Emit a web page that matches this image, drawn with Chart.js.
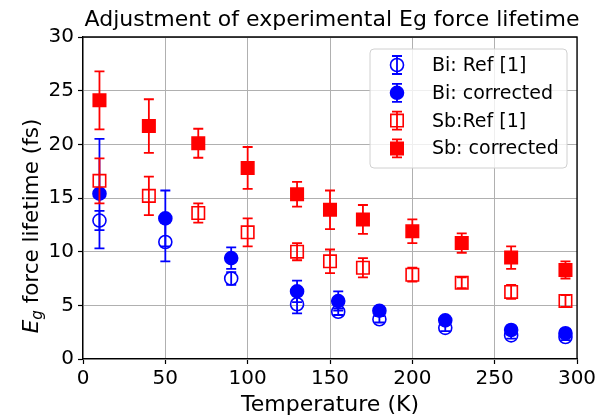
<!DOCTYPE html>
<html>
<head>
<meta charset="utf-8">
<script src="https://cdn.jsdelivr.net/npm/chart.js@4/dist/chart.umd.min.js"></script>
<style>
  html, body { margin: 0; padding: 0; background: #fff; }
  #wrap { width: 608px; height: 417px; }
</style>
</head>
<body>
<div id="wrap"><canvas id="c" width="608" height="417"></canvas></div>
<script>
// Temperatures (K)
const biTemps = [10, 50, 90, 130, 155, 180, 220, 260, 293];
const sbTemps = [10, 40, 70, 100, 130, 150, 170, 200, 230, 260, 293];

// Eg force lifetimes (fs) and their uncertainties
const biRef       = [12.9, 10.9, 7.5, 5.1, 4.4, 3.7, 2.9, 2.2, 2.05];
const biRefErr    = [0.9, 1.8, 0.6, 0.85, 0.3, 0.3, 0.3, 0.3, 0.3];
const biCorr      = [15.4, 13.1, 9.4, 6.3, 5.4, 4.5, 3.6, 2.7, 2.4];
const biCorrErr   = [5.1, 2.6, 1.0, 1.0, 0.9, 0.35, 0.35, 0.4, 0.35];
const sbRef       = [16.6, 15.2, 13.6, 11.8, 10.0, 9.1, 8.5, 7.85, 7.1, 6.25, 5.4];
const sbRefErr    = [2.1, 1.8, 0.9, 1.3, 0.8, 1.1, 0.9, 0.65, 0.5, 0.65, 0.55];
const sbCorr      = [24.1, 21.7, 20.1, 17.8, 15.35, 13.9, 13.0, 11.9, 10.8, 9.45, 8.3];
const sbCorrErr   = [2.7, 2.5, 1.35, 1.95, 1.15, 1.8, 1.35, 1.1, 0.9, 1.05, 0.8];

const xTicks = [0, 50, 100, 150, 200, 250, 300];
const yTicks = [0, 5, 10, 15, 20, 25, 30];

const seriesNames = ['Bi: Ref [1]', 'Bi: corrected', 'Sb:Ref [1]', 'Sb: corrected'];

const FONT = '"DejaVu Sans", sans-serif';
const BLUE = '#0000ff';
const RED = '#ff0000';

const pts = (xs, ys) => xs.map((x, i) => ({ x: x, y: ys[i] }));

// marker styles per series
const styles = [
  { color: BLUE, shape: 'circle', filled: false },
  { color: BLUE, shape: 'circle', filled: true },
  { color: RED,  shape: 'rect',   filled: false },
  { color: RED,  shape: 'rect',   filled: true }
];
const pointSize = s => (s.shape === 'circle' ? 6.5 : 8.8);

function makeDataset(idx, xs, ys, errs, order) {
  const s = styles[idx];
  return {
    label: seriesNames[idx],
    data: pts(xs, ys),
    errors: errs,
    order: order,
    borderColor: s.color,
    backgroundColor: s.filled ? s.color : 'rgba(0,0,0,0)',
    pointStyle: s.shape,
    pointRadius: pointSize(s),
    pointHoverRadius: pointSize(s),
    pointBorderWidth: 1.6,
    pointBackgroundColor: s.filled ? s.color : 'rgba(0,0,0,0)',
    pointBorderColor: s.color,
    showLine: false
  };
}

// vertical error bars with caps, drawn just under each series' markers
const errorBars = {
  id: 'errorBars',
  beforeDatasetDraw(chart, args) {
    const ds = chart.data.datasets[args.index];
    if (!ds.errors) return;
    const ys = chart.scales.y;
    const ctx = chart.ctx;
    ctx.save();
    ctx.strokeStyle = ds.borderColor;
    ctx.lineWidth = 1.8;
    args.meta.data.forEach((p, i) => {
      const v = ds.data[i].y, e = ds.errors[i];
      const yt = ys.getPixelForValue(v + e);
      const yb = ys.getPixelForValue(v - e);
      ctx.beginPath();
      ctx.moveTo(p.x, yt); ctx.lineTo(p.x, yb);
      ctx.moveTo(p.x - 5, yt); ctx.lineTo(p.x + 5, yt);
      ctx.moveTo(p.x - 5, yb); ctx.lineTo(p.x + 5, yb);
      ctx.stroke();
    });
    ctx.restore();
  }
};

function drawMarker(ctx, s, x, y) {
  ctx.save();
  ctx.strokeStyle = s.color;
  ctx.lineWidth = 1.8;
  ctx.beginPath();
  ctx.moveTo(x, y - 9); ctx.lineTo(x, y + 9);
  ctx.moveTo(x - 5, y - 9); ctx.lineTo(x + 5, y - 9);
  ctx.moveTo(x - 5, y + 9); ctx.lineTo(x + 5, y + 9);
  ctx.stroke();
  ctx.lineWidth = 1.6;
  ctx.beginPath();
  if (s.shape === 'circle') {
    ctx.arc(x, y, 6.5, 0, Math.PI * 2);
  } else {
    ctx.rect(x - 6.2, y - 6.2, 12.4, 12.4);
  }
  if (s.filled) { ctx.fillStyle = s.color; ctx.fill(); }
  ctx.stroke();
  ctx.restore();
}

// title, axis titles, remaining frame sides and legend
const decorations = {
  id: 'decorations',
  afterDraw(chart) {
    const ctx = chart.ctx;
    const a = chart.chartArea;
    ctx.save();

    // top and right frame sides
    ctx.strokeStyle = '#000';
    ctx.lineWidth = 1.3;
    ctx.beginPath();
    ctx.moveTo(a.left, a.top); ctx.lineTo(a.right, a.top); ctx.lineTo(a.right, a.bottom);
    ctx.stroke();

    ctx.fillStyle = '#000';
    // title
    ctx.font = '22px ' + FONT;
    ctx.textAlign = 'center';
    ctx.textBaseline = 'middle';
    ctx.fillText('Adjustment of experimental Eg force lifetime', (a.left + a.right) / 2 + 2, 20);

    // x axis title
    ctx.font = '22px ' + FONT;
    ctx.fillText('Temperature (K)', (a.left + a.right) / 2, 405);

    // y axis title with subscript
    ctx.save();
    ctx.translate(31, 226);
    ctx.rotate(-Math.PI / 2);
    const fE = 'italic 21.5px ' + FONT, fg = 'italic 15px ' + FONT, fR = '21.5px ' + FONT;
    const rest = ' force lifetime (fs)';
    ctx.font = fE; const wE = ctx.measureText('E').width;
    ctx.font = fg; const wg = ctx.measureText('g').width;
    ctx.font = fR; const wR = ctx.measureText(rest).width;
    let x0 = -(wE + wg + wR) / 2;
    ctx.textAlign = 'left';
    ctx.textBaseline = 'alphabetic';
    ctx.font = fE; ctx.fillText('E', x0, 7); x0 += wE;
    ctx.font = fg; ctx.fillText('g', x0, 11); x0 += wg;
    ctx.font = fR; ctx.fillText(rest, x0, 7);
    ctx.restore();

    // legend
    const lx = 370, ly = 49, lw = 197, lh = 119;
    ctx.beginPath();
    ctx.roundRect(lx, ly, lw, lh, 4);
    ctx.fillStyle = 'rgba(255,255,255,0.8)';
    ctx.fill();
    ctx.strokeStyle = '#d0d0d0';
    ctx.lineWidth = 1;
    ctx.stroke();
    ctx.font = '19px ' + FONT;
    ctx.textAlign = 'left';
    ctx.textBaseline = 'middle';
    seriesNames.forEach((name, i) => {
      const yy = 65 + i * 27.8;
      drawMarker(ctx, styles[i], 397, yy);
      ctx.fillStyle = '#000';
      ctx.fillText(name, 432, yy + 1);
    });
    ctx.restore();
  }
};

new Chart(document.getElementById('c'), {
  type: 'scatter',
  data: {
    datasets: [
      makeDataset(0, biTemps, biRef, biRefErr, 4),
      makeDataset(1, biTemps, biCorr, biCorrErr, 3),
      makeDataset(2, sbTemps, sbRef, sbRefErr, 2),
      makeDataset(3, sbTemps, sbCorr, sbCorrErr, 1)
    ]
  },
  options: {
    responsive: false,
    devicePixelRatio: 1,
    animation: false,
    events: [],
    layout: { padding: { left: 0, right: 31, top: 37, bottom: 0 } },
    plugins: {
      legend: { display: false },
      title: { display: false },
      tooltip: { enabled: false }
    },
    scales: {
      x: {
        type: 'linear',
        min: 0, max: 300,
        afterBuildTicks: s => { s.ticks = xTicks.map(v => ({ value: v })); },
        afterFit: s => { s.height = 58; },
        grid: { color: '#b0b0b0', lineWidth: 1, tickColor: '#000', tickLength: 5, tickWidth: 1.2 },
        border: { color: '#000', width: 1.3 },
        ticks: { color: '#000', font: { family: FONT, size: 20 }, padding: 3, maxRotation: 0 }
      },
      y: {
        type: 'linear',
        min: 0, max: 30,
        afterBuildTicks: s => { s.ticks = yTicks.map(v => ({ value: v })); },
        afterFit: s => { s.width = 83; },
        grid: { color: '#b0b0b0', lineWidth: 1, tickColor: '#000', tickLength: 5, tickWidth: 1.2 },
        border: { color: '#000', width: 1.3 },
        ticks: { color: '#000', font: { family: FONT, size: 20 }, padding: 4 }
      }
    }
  },
  plugins: [errorBars, decorations]
});
</script>
</body>
</html>
